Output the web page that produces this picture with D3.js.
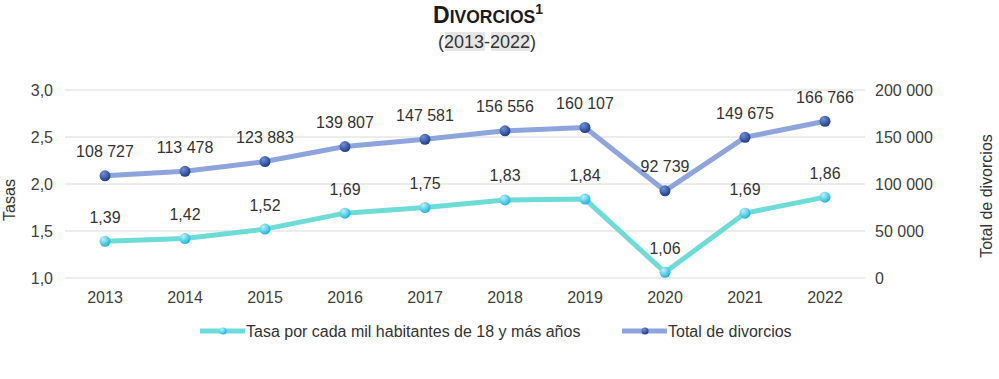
<!DOCTYPE html>
<html><head><meta charset="utf-8">
<script src="https://cdn.jsdelivr.net/npm/d3@7"></script>
<style>body{margin:0;background:#fff;} svg{display:block;font-family:"Liberation Sans",Arial,sans-serif;}</style>
</head><body>
<svg id="c" width="999" height="379"></svg>
<script>
const years = ["2013","2014","2015","2016","2017","2018","2019","2020","2021","2022"];
const tasa = [1.39,1.42,1.52,1.69,1.75,1.83,1.84,1.06,1.69,1.86];
const total = [108727,113478,123883,139807,147581,156556,160107,92739,149675,166766];
const leftTicks = [1.0,1.5,2.0,2.5,3.0];
const rightTicks = [0,50000,100000,150000,200000];
const seriesNames = ["Tasa por cada mil habitantes de 18 y más años","Total de divorcios"];

const svg = d3.select("#c");
const FF = "Liberation Sans, Arial, sans-serif";
const x = d3.scaleBand().domain(years).range([65,865]);
const yL = d3.scaleLinear().domain([1,3]).range([278,90]);
const yR = d3.scaleLinear().domain([0,200000]).range([278,90]);
const fmtL = v => d3.format(".1f")(v).replace(".",",");
const fmtL2 = v => d3.format(".2f")(v).replace(".",",");
const fmtR = v => d3.format(",")(v).replace(/,/g," ");
const cx = d => x(d) + x.bandwidth()/2;

const defs = svg.append("defs");
function grad(id, c1, c2){
  const g = defs.append("radialGradient").attr("id",id).attr("cx","35%").attr("cy","30%").attr("r","70%");
  g.append("stop").attr("offset","0%").attr("stop-color",c1);
  g.append("stop").attr("offset","100%").attr("stop-color",c2);
}
grad("gT","#b8f2ff","#1fb6dc");
grad("gR","#6f8fd6","#1f3f8f");

// Title
const t = svg.append("text").attr("x",488).attr("y",23).attr("text-anchor","middle")
  .attr("font-weight","bold").attr("font-size",23).attr("fill","#1a1a1a");
t.append("tspan").text("D");
t.append("tspan").attr("font-size",17.5).text("IVORCIOS");
t.append("tspan").attr("font-size",14).attr("dy",-9).text("1");
// subtitle highlights
const sub = svg.append("g");
sub.append("rect").attr("x",445).attr("y",32).attr("width",40).attr("height",19).attr("fill","#e6e6e6");
sub.append("rect").attr("x",491).attr("y",32).attr("width",39).attr("height",19).attr("fill","#e6e6e6");
svg.append("text").attr("x",487).attr("y",48).attr("text-anchor","middle").attr("font-size",18).attr("fill","#333")
  .text("(2013-2022)");

// gridlines
svg.append("g").selectAll("line").data(leftTicks).join("line")
  .attr("x1",65).attr("x2",865).attr("y1",d=>yL(d)).attr("y2",d=>yL(d))
  .attr("stroke","#d9d9d9").attr("stroke-width",1);

// axes
const ax = d3.axisLeft(yL).tickValues(leftTicks).tickFormat(fmtL).tickSize(0).tickPadding(12);
const gL = svg.append("g").attr("transform","translate(65,0)").call(ax);
gL.select(".domain").remove();
gL.selectAll("text").attr("font-size",16).attr("fill","#404040").attr("font-family",FF);

const axR = d3.axisRight(yR).tickValues(rightTicks).tickFormat(fmtR).tickSize(0).tickPadding(10);
const gR = svg.append("g").attr("transform","translate(865,0)").call(axR);
gR.select(".domain").remove();
gR.selectAll("text").attr("font-size",16).attr("fill","#404040").attr("font-family",FF);

const axB = d3.axisBottom(x).tickSize(0).tickPadding(14);
const gB = svg.append("g").attr("transform","translate(0,278)").call(axB);
gB.select(".domain").remove();
gB.selectAll("text").attr("font-size",16).attr("fill","#404040").attr("font-family",FF);

// axis titles
svg.append("text").attr("transform","translate(15,200) rotate(-90)").attr("text-anchor","middle")
  .attr("font-size",16).attr("fill","#333").text("Tasas");
svg.append("text").attr("transform","translate(992,196) rotate(-90)").attr("text-anchor","middle")
  .attr("font-size",16).attr("fill","#333").text("Total de divorcios");

// lines
const lineT = d3.line().x((d,i)=>cx(years[i])).y(d=>yL(d));
const lineR = d3.line().x((d,i)=>cx(years[i])).y(d=>yR(d));
svg.append("path").attr("d",lineR(total)).attr("fill","none").attr("stroke","#8ea4dc").attr("stroke-width",5).attr("stroke-linejoin","round");
svg.append("path").attr("d",lineT(tasa)).attr("fill","none").attr("stroke","#6ddcd6").attr("stroke-width",5).attr("stroke-linejoin","round");

svg.append("g").selectAll("circle").data(total).join("circle")
  .attr("cx",(d,i)=>cx(years[i])).attr("cy",d=>yR(d)).attr("r",5.5).attr("fill","url(#gR)");
svg.append("g").selectAll("circle").data(tasa).join("circle")
  .attr("cx",(d,i)=>cx(years[i])).attr("cy",d=>yL(d)).attr("r",5.5).attr("fill","url(#gT)");

// labels
svg.append("g").selectAll("text").data(total).join("text")
  .attr("x",(d,i)=>cx(years[i])).attr("y",d=>yR(d)-18.5).attr("text-anchor","middle")
  .attr("font-size",16).attr("fill","#333").text(fmtR);
svg.append("g").selectAll("text").data(tasa).join("text")
  .attr("x",(d,i)=>cx(years[i])).attr("y",d=>yL(d)-18.5).attr("text-anchor","middle")
  .attr("font-size",16).attr("fill","#333").text(fmtL2);

// legend
const leg = [{x:200, c:"#6ddcd6", g:"url(#gT)", n:seriesNames[0]},{x:622, c:"#8ea4dc", g:"url(#gR)", n:seriesNames[1]}];
const lg = svg.append("g").selectAll("g").data(leg).join("g").attr("transform",d=>`translate(${d.x},331)`);
lg.append("line").attr("x1",0).attr("x2",45).attr("stroke",d=>d.c).attr("stroke-width",5);
lg.append("circle").attr("cx",23).attr("r",3.5).attr("fill",d=>d.g);
lg.append("text").attr("x",46).attr("y",6).attr("font-size",16).attr("fill","#333").text(d=>d.n);
</script>
</body></html>
